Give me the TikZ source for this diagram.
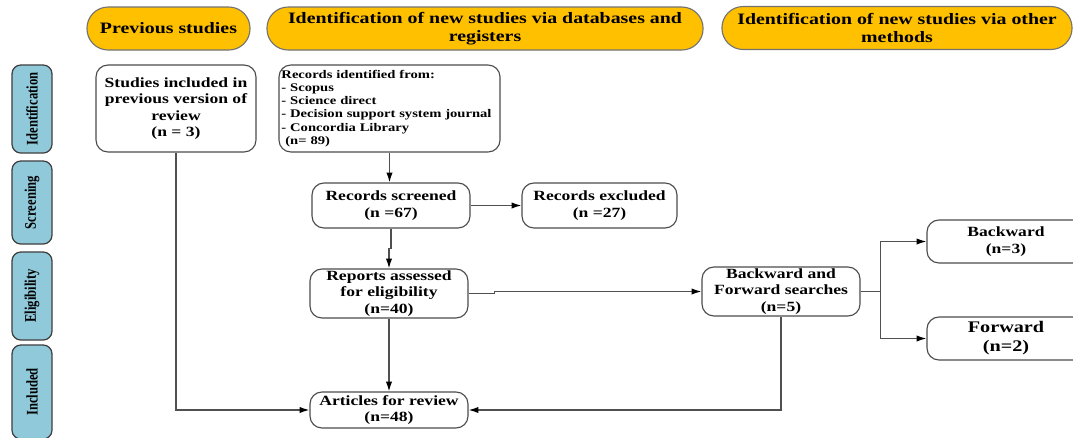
\documentclass[tikz,border=0pt]{standalone}
\usepackage{fontspec}
\setmainfont{Liberation Serif}
\newfontfamily\widefont[FakeStretch=1.25]{Liberation Serif}
\newfontfamily\narrowfont[FakeStretch=0.78]{Liberation Serif}
\usetikzlibrary{arrows.meta}
\definecolor{gold}{HTML}{FFC000}
\definecolor{phase}{HTML}{8FC9DA}
\definecolor{edgec}{HTML}{505050}
\begin{document}
\begin{tikzpicture}[x=0.025cm,y=-0.025cm,
 hdr/.style={draw=black!55, fill=gold, rounded corners=0.53cm, line width=0.8pt, align=center, font=\widefont\bfseries\fontsize{11.3}{13}\selectfont, inner sep=0pt, minimum height=1.075cm},
 ph/.style={draw=black!75, fill=phase, rounded corners=0.22cm, line width=0.9pt, minimum height=1cm, rotate=90, inner sep=0pt, font=\narrowfont\bfseries\fontsize{11.5}{12}\selectfont},
 bx/.style={draw=black!70, fill=white, rounded corners=0.3cm, line width=0.8pt, align=center, font=\widefont\bfseries\fontsize{10}{11.8}\selectfont, inner sep=0pt, minimum width=3.95cm},
 ar/.style={draw=edgec, line width=0.9pt, -{Latex[length=7pt,width=4.5pt,color=black]}},
 ln/.style={draw=edgec, line width=0.9pt}]
\useasboundingbox (0,0) rectangle (1073,437);
\clip (0,0) rectangle (1073,437);
% headers
\node[hdr, minimum width=4.075cm] (hprev) at (168.5,28.5) {Previous studies};
\node[hdr, minimum width=10.9cm] (hdb) at (485,28.5) {Identification of new studies via databases and\\registers};
\node[hdr, minimum width=8.75cm] (hoth) at (897,28) {Identification of new studies via other\\methods};
% phases
\node[ph, minimum width=2.2cm] (pid) at (32,109) {Identification};
\node[ph, minimum width=2.075cm] (psc) at (32,202.5) {Screening};
\node[ph, minimum width=2.2cm] (pel) at (32,296) {Eligibility};
\node[ph, minimum width=2.35cm] (pin) at (32,392) {Included};
% boxes
\node[bx, minimum width=4cm, minimum height=2.175cm] (prev) at (176,108.5) {Studies included in\\previous version of\\review\\(n = 3)};
\node[bx, minimum width=5.525cm, minimum height=2.175cm, text width=5.4cm, inner xsep=0.06cm, align=left, font=\widefont\bfseries\fontsize{8.3}{9.4}\selectfont] (recid) at (389.5,108.5) {Records identified from:\\- Scopus\\- Science direct\\- Decision support system journal\\- Concordia Library\\\ (n= 89)};
\node[bx, minimum height=1.125cm] (scr) at (391,205.5) {Records screened\\(n =67)};
\node[bx, minimum width=3.875cm, minimum height=1.125cm] (exc) at (599.5,205.5) {Records excluded\\(n =27)};
\node[bx, minimum height=1.225cm] (rep) at (389,293.5) {Reports assessed\\for eligibility\\(n=40)};
\node[bx, minimum height=0.9cm] (art) at (389,410) {Articles for review\\(n=48)};
\node[bx, minimum height=1.225cm] (bf) at (781,291.5) {Backward and\\Forward searches\\(n=5)};
\node[bx, minimum height=1.075cm] (bk) at (1006,241.5) {Backward\\(n=3)};
\node[bx, minimum height=1.075cm, font=\widefont\bfseries\fontsize{11.5}{13.5}\selectfont] (fw) at (1006,338.5) {Forward\\(n=2)};
% connectors
\draw[ar] (prev.south) |- (art.west);
\draw[ar] (recid.south) -- (recid.south |- scr.north);
\draw[ar] (scr.east) -- (exc.west);
\draw[ar] (scr.south) -- ++(0,20) -| (rep.north);
\draw[ar] (rep.east) -- ++(26,0) |- (bf.west);
\draw[ln] (bf.east) -- ++(20,0) coordinate (br);
\draw[ar] (br) |- (bk.west);
\draw[ar] (br) |- (fw.west);
\draw[ar] (bf.south) |- (art.east);
\draw[ar] (rep.south) -- (art.north);
\end{tikzpicture}
\end{document}
